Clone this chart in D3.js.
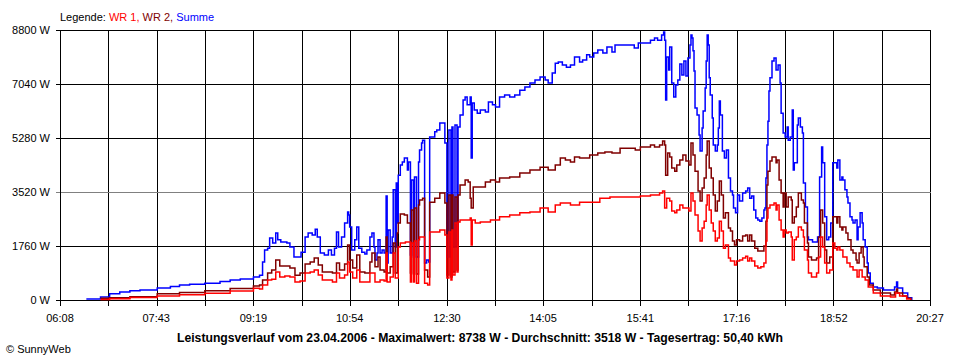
<!DOCTYPE html>
<html><head><meta charset="utf-8">
<script src="https://cdn.jsdelivr.net/npm/d3@7/dist/d3.min.js"></script>
<style>
body{margin:0;background:#fff}
svg{display:block;font-family:"Liberation Sans",Arial,sans-serif}
</style>
</head><body>
<svg id="chart" width="960" height="360"></svg>
<script>
// ---- data (time = minutes of day, value = W) ----
const yTickValues = [0, 1760, 3520, 5280, 7040, 8800];
const xTickLabels = ["06:08","07:43","09:19","10:54","12:30","14:05","15:41","17:16","18:52","20:27"];
const seriesNames = ["WR 1", "WR 2", "Summe"];
const titleText = "Leistungsverlauf vom 23.04.2006 - Maximalwert: 8738 W - Durchschnitt: 3518 W - Tagesertrag: 50,40 kWh";
const copyrightText = "\u00A9 SunnyWeb";

const summe = [[394,30],[408,100],[417,200],[427,260],[437,300],[447,330],[464,390],[477,440],[486,490],[496,510],[511,550],[526,600],[536,650],[546,685],[559,750],[565,810],[568,1240],[570,1630],[573,1690],[575,2020],[578,1860],[581,2180],[583,1960],[586,1890],[592,1860],[595,1730],[599,1400],[603,1400],[606,1560],[610,2050],[613,2180],[617,2120],[620,2310],[622,2050],[625,1530],[629,1470],[633,1630],[636,1470],[639,1690],[641,2220],[643,1730],[646,2050],[649,2510],[652,2870],[653,2770],[654,2380],[656,1630],[659,1960],[661,2380],[663,1690],[666,1560],[669,1500],[671,1630],[674,2050],[676,2180],[678,1730],[679,1300],[681,1530],[682,1960],[684,1530],[686,1630],[688,1530],[690,3390],[691,1210],[692,2280],[694,1530],[696,2050],[697,3590],[699,1730],[700,3810],[701,2510],[702,4070],[704,4400],[706,4500],[708,4630],[710,4630],[711,4240],[712,4500],[714,1470],[715,3910],[717,1400],[718,4010],[720,1400],[722,4500],[723,4890],[725,5120],[726,5210],[728,1210],[730,1300],[732,1240],[733,5310],[736,5310],[738,5480],[740,5540],[743,5770],[746,5770],[748,5120],[750,1400],[752,5540],[754,1400],[755,5640],[756,1730],[758,5700],[760,1730],[761,5640],[763,6030],[766,6520],[768,6620],[770,6360],[773,6620],[774,4630],[775,6420],[777,6190],[780,6090],[783,6190],[788,6130],[791,6450],[795,6360],[798,6290],[802,6620],[807,6680],[812,6620],[817,6680],[822,6840],[827,6940],[832,7070],[837,7170],[842,7270],[847,7170],[850,7070],[854,7400],[857,7720],[860,7760],[864,7660],[868,7590],[872,7660],[876,7920],[881,7760],[884,7820],[888,7990],[891,7920],[895,8050],[899,8150],[904,8050],[908,8250],[913,8080],[916,8310],[921,8310],[929,8310],[935,8210],[939,8380],[946,8380],[951,8470],[955,8540],[958,8470],[962,8640],[964,8738],[965,8470],[966,6520],[967,7920],[969,7500],[970,8250],[972,7070],[974,6620],[976,7010],[978,7170],[980,7690],[982,7330],[984,7790],[986,7300],[988,7890],[990,8310],[991,8640],[992,8540],[993,8120],[994,7460],[995,6260],[997,6030],[999,5380],[1000,4860],[1002,5610],[1003,6160],[1005,6910],[1006,7790],[1007,8640],[1008,8310],[1009,7240],[1010,6680],[1012,5930],[1013,5050],[1015,4860],[1017,5050],[1018,5610],[1019,6490],[1020,6030],[1022,4860],[1024,4630],[1026,4890],[1028,3980],[1030,3550],[1032,3420],[1033,3000],[1035,2840],[1037,3420],[1039,3230],[1042,3490],[1045,3550],[1047,3650],[1049,3320],[1051,3390],[1053,2930],[1055,2670],[1057,2610],[1059,2570],[1061,2670],[1063,2930],[1064,3000],[1065,3980],[1066,5050],[1067,5830],[1068,6810],[1069,7240],[1071,7790],[1073,7890],[1075,7500],[1077,7660],[1079,7070],[1080,6090],[1082,5440],[1084,5310],[1086,5640],[1087,5210],[1089,5310],[1091,6190],[1092,4240],[1093,4470],[1096,5700],[1097,5930],[1099,5640],[1101,5440],[1102,3810],[1104,3030],[1106,2050],[1107,1960],[1111,1890],[1116,2050],[1118,4010],[1120,4990],[1121,4470],[1123,2710],[1125,1960],[1127,2050],[1129,2510],[1131,4470],[1133,4470],[1135,4300],[1136,4560],[1138,3910],[1140,4010],[1141,3910],[1143,3590],[1145,3360],[1146,3160],[1148,2710],[1150,2610],[1151,2510],[1153,2610],[1155,1960],[1156,2380],[1158,2840],[1160,2510],[1161,1960],[1163,1730],[1165,1210],[1166,880],[1168,550],[1171,420],[1175,390],[1181,330],[1188,330],[1192,420],[1194,590],[1195,390],[1200,230],[1205,70],[1209,0]];

const wr2 = [[408,60],[417,75],[437,110],[464,200],[486,245],[511,300],[536,375],[559,460],[565,490],[568,650],[573,880],[577,980],[581,1300],[585,1110],[590,1110],[595,1040],[600,810],[605,880],[610,1170],[615,1240],[619,1370],[623,1140],[627,910],[632,910],[637,880],[641,1210],[644,980],[649,1170],[652,1790],[654,1300],[657,1040],[661,1470],[664,910],[669,880],[674,1240],[676,1530],[679,1080],[682,1400],[684,980],[688,910],[690,2050],[691,880],[694,1080],[697,1860],[699,880],[701,2180],[702,2510],[704,2800],[708,2770],[711,2510],[714,880],[715,2930],[717,850],[718,3000],[720,850],[722,3100],[723,3260],[726,3320],[728,980],[731,750],[733,3190],[738,3320],[743,3490],[748,3160],[750,815],[752,3420],[754,750],[755,3420],[756,910],[758,3360],[760,980],[761,3420],[763,3750],[768,3910],[771,3850],[773,3320],[774,3000],[776,3680],[781,3680],[788,3850],[793,3910],[798,3850],[802,3980],[812,4010],[822,4140],[832,4240],[842,4330],[850,4240],[857,4400],[862,4630],[867,4560],[872,4500],[876,4660],[881,4630],[891,4730],[899,4790],[906,4820],[913,4790],[921,4950],[931,4950],[936,4890],[941,4990],[951,5050],[955,4990],[960,5050],[963,5180],[965,5050],[966,4070],[968,4790],[970,4660],[972,4300],[975,4200],[977,4400],[980,4560],[983,4730],[986,4530],[989,4400],[991,5120],[993,4730],[995,4200],[998,3550],[1000,3230],[1002,3650],[1004,3980],[1006,4730],[1007,5180],[1009,4300],[1011,3980],[1013,3420],[1015,2900],[1017,3230],[1019,3880],[1021,3420],[1023,2670],[1025,2840],[1028,2350],[1030,2250],[1032,1920],[1034,1790],[1036,1960],[1039,1920],[1042,2090],[1045,2120],[1047,1920],[1049,2120],[1051,1920],[1054,1690],[1057,1600],[1060,1600],[1063,1760],[1065,2570],[1066,3750],[1067,4200],[1069,4530],[1071,4660],[1073,4660],[1075,4470],[1076,4560],[1078,3910],[1080,3490],[1082,3030],[1083,3490],[1085,3030],[1087,3360],[1090,3260],[1091,2510],[1093,2710],[1095,3030],[1097,3490],[1100,3260],[1102,3160],[1103,2510],[1106,1860],[1107,1400],[1110,1300],[1115,1370],[1117,2050],[1119,2930],[1121,2510],[1123,1630],[1125,1210],[1128,1400],[1131,2710],[1133,2710],[1135,2510],[1136,2710],[1138,2380],[1140,2280],[1141,2380],[1144,2180],[1146,1960],[1149,1630],[1151,1530],[1154,1300],[1155,1210],[1157,1530],[1159,1730],[1161,1400],[1162,1080],[1165,750],[1167,490],[1171,330],[1178,230],[1188,160],[1192,260],[1194,360],[1195,230],[1200,130],[1204,60],[1208,0]];

const wr1 = [[408,20],[417,40],[437,80],[464,130],[486,175],[511,220],[536,290],[559,380],[565,360],[568,490],[573,650],[577,680],[581,910],[585,750],[590,780],[595,750],[600,590],[605,620],[610,880],[615,910],[619,980],[623,815],[627,650],[632,650],[637,590],[641,880],[644,720],[649,815],[652,1240],[654,910],[657,720],[661,980],[664,590],[669,590],[674,880],[679,590],[684,650],[688,620],[690,1530],[691,590],[694,750],[697,1530],[699,720],[702,1730],[704,1860],[709,1890],[714,590],[715,1860],[717,590],[718,1920],[720,550],[722,1960],[723,2050],[728,550],[731,490],[733,2220],[743,2280],[748,2120],[750,720],[752,2220],[754,650],[755,2280],[756,815],[758,2510],[760,910],[761,2540],[763,2610],[768,2610],[773,2670],[774,1790],[775,2610],[778,2510],[783,2540],[793,2610],[802,2710],[812,2770],[822,2840],[832,2870],[842,3000],[850,2870],[857,3100],[862,3160],[872,3100],[881,3190],[891,3190],[901,3320],[911,3360],[921,3360],[931,3360],[941,3390],[951,3420],[960,3490],[963,3550],[965,3000],[967,3320],[970,3230],[972,2900],[975,2840],[977,2930],[980,3100],[983,3000],[986,3000],[989,2900],[991,3490],[993,3230],[995,2770],[998,2250],[1000,1920],[1002,2350],[1004,2570],[1006,3100],[1007,3420],[1009,2930],[1011,2510],[1013,2250],[1015,1920],[1017,2020],[1019,2570],[1021,2250],[1023,1690],[1025,1790],[1028,1370],[1030,1270],[1032,1270],[1034,1140],[1036,1270],[1039,1300],[1042,1370],[1045,1430],[1047,1270],[1049,1370],[1051,1270],[1054,1110],[1057,1040],[1060,1080],[1063,1210],[1065,1920],[1066,2670],[1067,3000],[1069,3100],[1071,3100],[1073,3160],[1075,2930],[1076,3100],[1078,2610],[1080,2280],[1082,2050],[1083,2280],[1085,2180],[1087,2220],[1090,2050],[1091,1300],[1093,1960],[1095,2050],[1097,2380],[1100,2280],[1102,2050],[1103,1630],[1106,1300],[1107,880],[1110,750],[1115,880],[1117,1400],[1119,2050],[1121,1730],[1123,1210],[1125,880],[1128,980],[1131,1860],[1133,1690],[1135,1630],[1136,1730],[1138,1630],[1141,1400],[1145,1210],[1148,1080],[1151,980],[1155,750],[1157,980],[1160,750],[1163,650],[1166,420],[1171,230],[1178,130],[1188,100],[1193,230],[1197,130],[1204,30],[1208,0]];

// ---- drawing ----
const svg = d3.select("#chart");
const toMin = s => { const [h, m] = s.split(":").map(Number); return h * 60 + m; };
const tStart = toMin(xTickLabels[0]), tEnd = toMin(xTickLabels[xTickLabels.length - 1]);
const x = d3.scaleLinear().domain([tStart, tEnd]).range([60, 930]);
const y = d3.scaleLinear().domain([0, 8800]).range([300, 30]);
const colors = {"WR 1": "#ff0000", "WR 2": "#800000", "Summe": "#0000ff"};
const crisp = v => Math.round(v) + 0.5;

const grid = svg.append("g").attr("shape-rendering", "crispEdges");
const vLines = d3.range(19).map(i => tStart + i * (tEnd - tStart) / 18);
grid.selectAll(".v").data(vLines).join("line")
  .attr("x1", d => crisp(x(d))).attr("x2", d => crisp(x(d)))
  .attr("y1", crisp(y(8800))).attr("y2", crisp(y(0)) + 5)
  .attr("stroke", "#000");
grid.selectAll(".h").data(yTickValues).join("line")
  .attr("x1", crisp(x(tStart)) - 5).attr("x2", crisp(x(tEnd)))
  .attr("y1", d => crisp(y(d))).attr("y2", d => crisp(y(d)))
  .attr("stroke", d => d === 3520 ? "#808080" : "#000");
grid.append("line").attr("x1", crisp(x(tStart))).attr("x2", crisp(x(tStart)))
  .attr("y1", crisp(y(8800))).attr("y2", crisp(y(0)) + 5).attr("stroke", "#000");

svg.append("g").selectAll("text").data(yTickValues).join("text")
  .attr("x", 50).attr("y", d => y(d) + 4)
  .attr("text-anchor", "end").attr("font-size", 11).attr("fill", "#000")
  .text(d => d + " W");

svg.append("g").selectAll("text").data(xTickLabels).join("text")
  .attr("x", d => x(toMin(d))).attr("y", 322)
  .attr("text-anchor", "middle").attr("font-size", 11).attr("fill", "#000")
  .text(d => d);

const line = d3.line().x(d => x(d[0])).y(d => y(d[1])).curve(d3.curveStepAfter);
const seriesData = {"WR 1": wr1, "WR 2": wr2, "Summe": summe};
["Summe", "WR 2", "WR 1"].forEach(name => {
  svg.append("path").datum(seriesData[name])
    .attr("d", line).attr("fill", "none")
    .attr("stroke", colors[name]).attr("stroke-width", 1.5)
    .attr("stroke-linejoin", "miter");
});

const leg = svg.append("text").attr("x", 60).attr("y", 21).attr("font-size", 11);
leg.append("tspan").attr("fill", "#000").text("Legende: ");
seriesNames.forEach((n, i) => {
  leg.append("tspan").attr("fill", colors[n]).text(n + (i < seriesNames.length - 1 ? ", " : ""));
});

svg.append("text").attr("x", 480).attr("y", 342).attr("text-anchor", "middle")
  .attr("font-size", 12.2).attr("font-weight", "bold").attr("fill", "#000").text(titleText);

svg.append("text").attr("x", 6).attr("y", 353).attr("font-size", 11).attr("fill", "#000").text(copyrightText);
</script>
</body></html>
